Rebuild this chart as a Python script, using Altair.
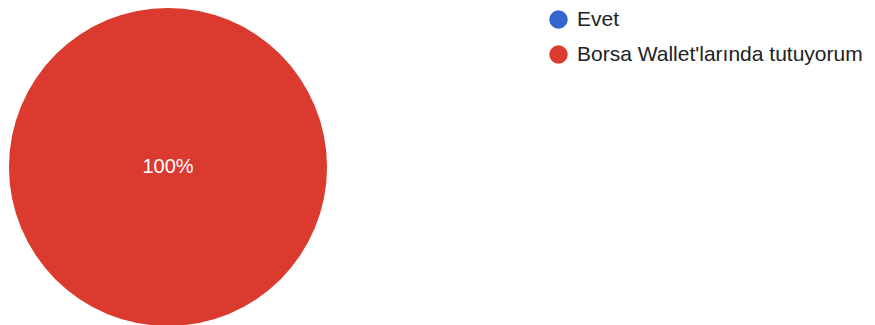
import altair as alt
import pandas as pd

categories = ["Evet", "Borsa Wallet'larında tutuyorum"]
values = [0, 1]
labels = ["", "100%"]
colors = ["#3366CC", "#DB3A2F"]

df = pd.DataFrame({
    "category": categories,
    "value": values,
    "label": labels,
    "order": list(range(len(categories))),
})

W, H = 859, 317
CX, CY, R = 160, 158, 159
FONT = "Liberation Sans"

base = alt.Chart(df)

pie = base.mark_arc(outerRadius=R, strokeWidth=0).encode(
    theta=alt.Theta("value:Q", stack=True),
    color=alt.Color(
        "category:N",
        scale=alt.Scale(domain=categories, range=colors),
        sort=categories,
        legend=alt.Legend(
            title=None,
            orient="none",
            legendX=540,
            legendY=0,
            padding=0,
            symbolType="circle",
            symbolSize=340,
            symbolStrokeWidth=0,
            labelFontSize=21,
            labelFont=FONT,
            labelColor="#222222",
            labelOffset=8,
            rowPadding=13,
            labelLimit=400,
        ),
    ),
    order=alt.Order("order:Q"),
    x=alt.value(CX),
    y=alt.value(CY),
)

text = base.mark_text(fontSize=20, font=FONT, color="#FFFFFF", baseline="middle", align="center").encode(
    text="label:N",
    x=alt.value(CX),
    y=alt.value(CY),
)

chart = (
    alt.layer(pie, text)
    .properties(width=W, height=H, padding=0)
    .configure_view(stroke=None)
)

chart.save("out.html", embed_options={"renderer": "svg", "actions": False})
